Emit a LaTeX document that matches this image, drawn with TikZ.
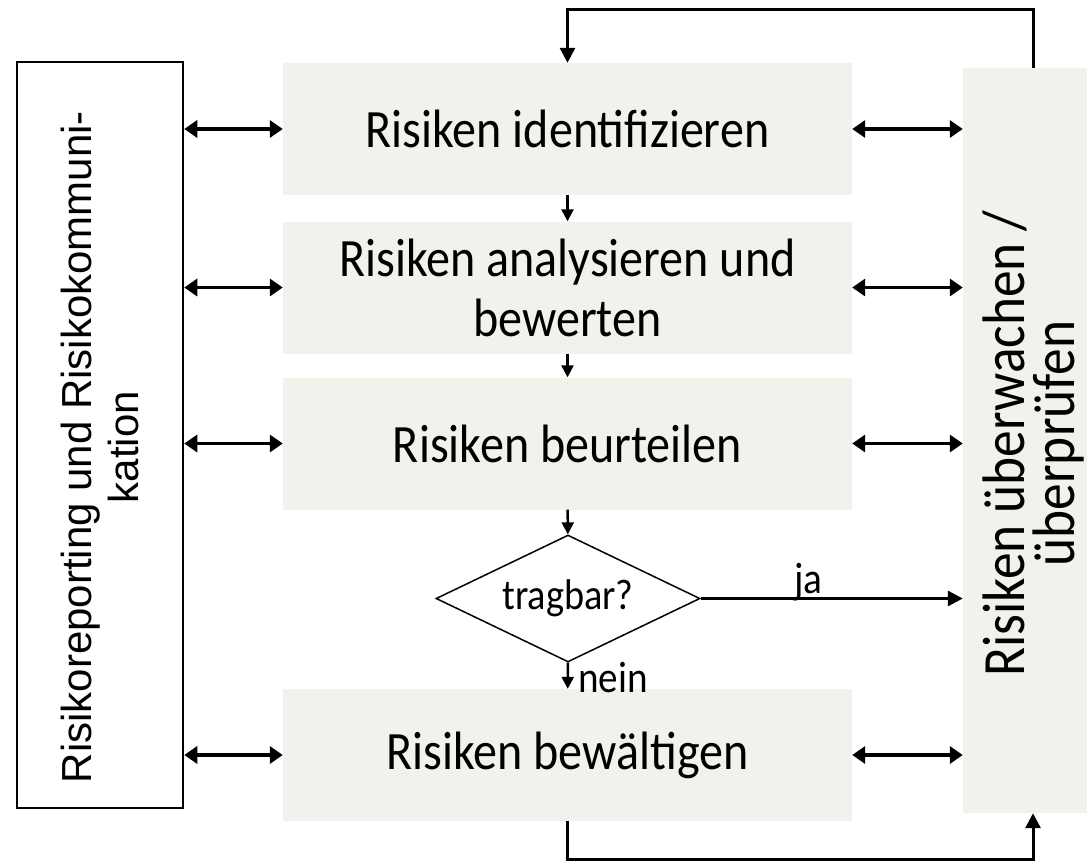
\documentclass[tikz,border=0pt]{standalone}
\usepackage{fontspec}
\setmainfont{Carlito}
\newfontfamily\tallfont[FakeStretch=0.89]{Carlito}
\newfontfamily\arialfont{Liberation Sans}
\usetikzlibrary{shapes.geometric, arrows.meta, calc}

\definecolor{boxfill}{RGB}{242,241,235}

\begin{document}
\begin{tikzpicture}[
    x=1pt, y=-1pt,
    stepbox/.style={fill=boxfill, minimum width=569pt, minimum height=132pt,
        inner sep=0pt, align=center, font=\tallfont\fontsize{54}{60}\selectfont},
    repbox/.style={draw, line width=2.5pt, minimum width=166pt, minimum height=746pt},
    monbox/.style={fill=boxfill, minimum width=124pt, minimum height=745pt},
    sidetext/.style={rotate=90, align=center, inner sep=0pt},
    decision/.style={diamond, draw, line width=1.5pt, fill=white, aspect=2,
        minimum width=264pt, minimum height=127pt, inner sep=0pt,
        font=\tallfont\fontsize{43}{46}\selectfont},
    both/.style={{Triangle[length=13pt,width=17pt]}-{Triangle[length=13pt,width=17pt]}, line width=3.5pt},
    down/.style={-{Triangle[length=12pt,width=12pt]}, line width=2.5pt},
    flow/.style={-{Triangle[length=15pt,width=15pt]}, line width=3pt},
    small/.style={font=\tallfont\fontsize{44}{46}\selectfont}
]
    \useasboundingbox (0,0) rectangle (1087,865);

    % side columns
    \node[repbox] (rep) at (100,435) {};
    \node[sidetext, font=\arialfont\fontsize{42}{47}\selectfont]
        at ($(rep.center)+(0,12)$) {Risikoreporting und Risikokommuni-\\kation};
    \node[monbox] (mon) at (1025,440.5) {};
    \node[sidetext, font=\tallfont\fontsize{60}{50}\selectfont]
        at ($(mon.center)+(8,3)$) {Risiken überwachen /\\überprüfen};

    % process steps
    \node[stepbox] (ident) at (567.5,129) {Risiken identifizieren};
    \node[stepbox] (analyse) at (567.5,287.5) {Risiken analysieren und\\bewerten};
    \node[stepbox] (judge) at (567.5,443.5) {Risiken beurteilen};
    \node[decision] (ok) at (568,598.5) {tragbar?};
    \node[stepbox] (cope) at (567.5,755) {Risiken bewältigen};

    \foreach \s in {ident,analyse,judge,cope} {
        \draw[both] (rep.east |- \s) -- (\s.west);
        \draw[both] (\s.east) -- (mon.west |- \s);
    }

    \draw[down] (ident) -- (analyse);
    \draw[down] (analyse) -- (judge);
    \draw[down] (judge) -- (ok);
    \draw[down] (ok) -- node[small, right=6pt, pos=0.55] {nein} (cope);
    \draw[flow] (ok.east) -- node[small, above, pos=0.41, inner sep=0pt, yshift=-4pt] {ja} (mon.west |- ok.east);

    % feedback loop
    \draw[flow] ([xshift=8pt]mon.north) -- ++(0,-58) -| (ident.north);
    \draw[flow] (cope.south) -- ++(0,38) -| ([xshift=8pt]mon.south);
\end{tikzpicture}
\end{document}
